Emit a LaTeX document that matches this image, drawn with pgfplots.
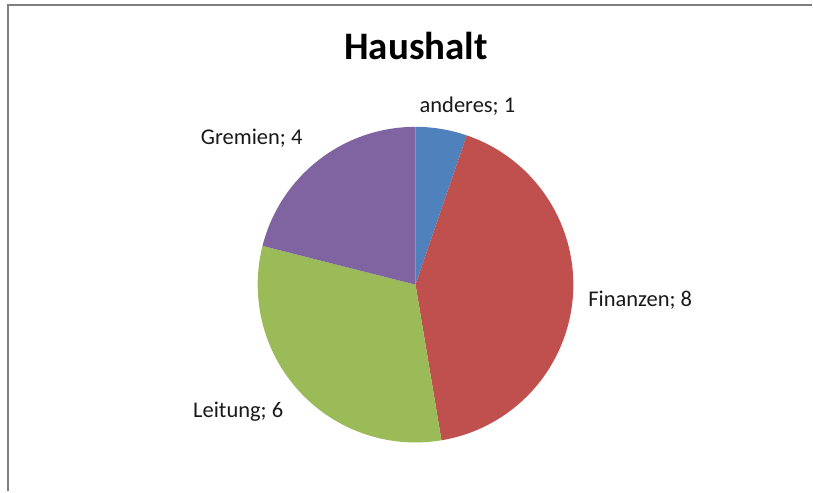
\documentclass[border=0pt]{standalone}
\usepackage{pgfplots}
\pgfplotsset{compat=1.18}
\usepackage{fontspec}
\setmainfont{Carlito}

\definecolor{pieblue}{HTML}{4F81BD}
\definecolor{piered}{HTML}{C0504D}
\definecolor{piegreen}{HTML}{9BBB59}
\definecolor{piepurple}{HTML}{8064A2}
\definecolor{framegray}{HTML}{7F7F7F}

% slice values: anderes, Finanzen, Leitung, Gremien
\def\vA{1}
\def\vB{8}
\def\vC{6}
\def\vD{4}

\begin{document}
\begin{tikzpicture}
\pgfmathsetmacro\total{\vA+\vB+\vC+\vD}
\pgfmathsetmacro\aA{90}
\pgfmathsetmacro\aB{\aA-360*\vA/\total}
\pgfmathsetmacro\aC{\aB-360*\vB/\total}
\pgfmathsetmacro\aD{\aC-360*\vC/\total}
\pgfmathsetmacro\aE{\aD-360*\vD/\total}
\begin{axis}[
    hide axis,
    scale only axis,
    x=1bp, y=1bp,
    xmin=0, xmax=813,
    ymin=0, ymax=492,
    clip=false,
]
% full canvas as bounding box
\path (axis cs:0,0) rectangle (axis cs:813,492);

\fill[pieblue] (axis cs:416,207) -- ++(\aA:158bp) arc[start angle=\aA, end angle=\aB, radius=158bp] -- cycle;
\fill[piered] (axis cs:416,207) -- ++(\aB:158bp) arc[start angle=\aB, end angle=\aC, radius=158bp] -- cycle;
\fill[piegreen] (axis cs:416,207) -- ++(\aC:158bp) arc[start angle=\aC, end angle=\aD, radius=158bp] -- cycle;
\fill[piepurple] (axis cs:416,207) -- ++(\aD:158bp) arc[start angle=\aD, end angle=\aE, radius=158bp] -- cycle;

\node[anchor=base, font=\fontsize{39bp}{44bp}\selectfont\bfseries] at (axis cs:416.5,432) {Haushalt};
\node[anchor=base, font=\fontsize{22.5bp}{26bp}\selectfont, text=black!90] at (axis cs:468,379) {anderes; \vA};
\node[anchor=base, font=\fontsize{22.5bp}{26bp}\selectfont, text=black!90] at (axis cs:641,185) {Finanzen; \vB};
\node[anchor=base, font=\fontsize{22.5bp}{26bp}\selectfont, text=black!90] at (axis cs:238.5,74) {Leitung; \vC};
\node[anchor=base, font=\fontsize{22.5bp}{26bp}\selectfont, text=black!90] at (axis cs:252,347) {Gremien; \vD};

\draw[framegray, line width=2bp] (axis cs:8,0) -- (axis cs:8,487) -- (axis cs:813,487);
\end{axis}
\end{tikzpicture}
\end{document}
